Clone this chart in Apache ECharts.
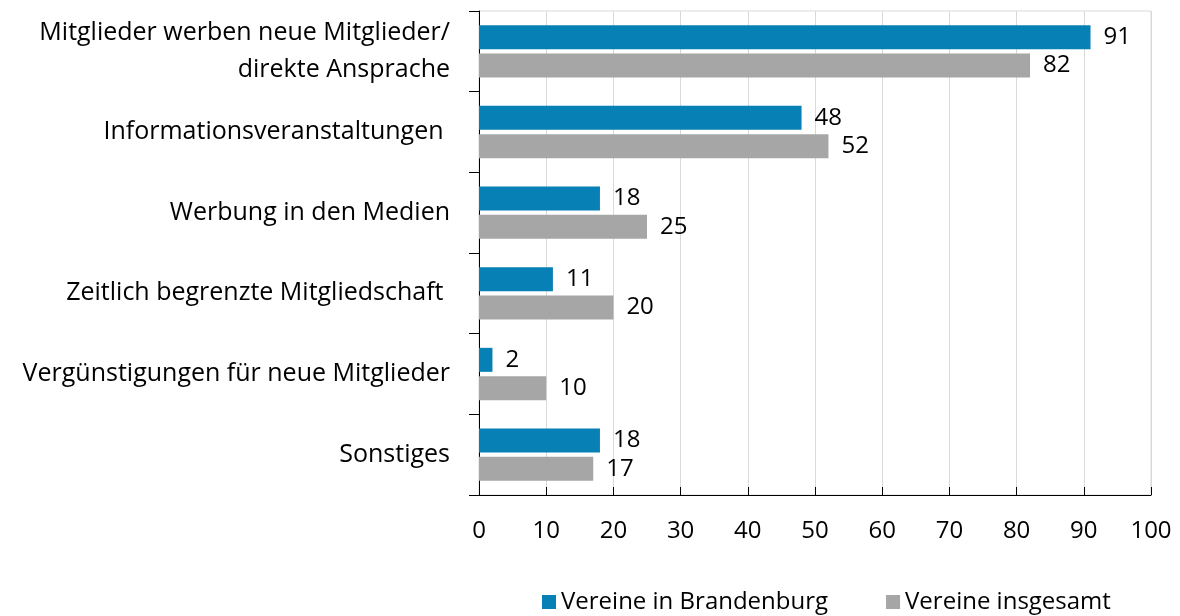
<!DOCTYPE html>
<html>
<head>
<meta charset="utf-8">
<script src="https://cdn.jsdelivr.net/npm/echarts@6/dist/echarts.min.js"></script>
<style>
  html, body { margin: 0; padding: 0; background: #fff; }
  #chart { width: 1180px; height: 616px; }
</style>
</head>
<body>
<div id="chart"></div>
<script>
var categories = [
  'Mitglieder werben neue Mitglieder/\ndirekte Ansprache',
  'Informationsveranstaltungen ',
  'Werbung in den Medien',
  'Zeitlich begrenzte Mitgliedschaft ',
  'Vergünstigungen für neue Mitglieder',
  'Sonstiges'
];
var brandenburg = [91, 48, 18, 11, 2, 18];
var insgesamt = [82, 52, 25, 20, 10, 17];
var seriesNames = ['Vereine in Brandenburg', 'Vereine insgesamt'];
var xTicks = [0, 100, 10];//min max interval

var font = 'Open Sans';
var chart = echarts.init(document.getElementById('chart'));

var labelStyle = {
  show: true,
  position: 'right',
  distance: 13,
  color: '#000',
  fontFamily: font,
  fontSize: 24
};

var option = {
  animation: false,
  textStyle: { fontFamily: font },
  grid: {
    left: 479, right: 29, top: 11, bottom: 121,
    show: true, borderColor: '#d9d9d9', borderWidth: 1
  },
  legend: {
    data: seriesNames,
    left: 537, bottom: -3,
    itemWidth: 14, itemHeight: 14, itemGap: 58,
    icon: 'rect',
    textStyle: { fontFamily: font, fontSize: 24, color: '#000' }
  },
  xAxis: {
    type: 'value',
    min: xTicks[0], max: xTicks[1], interval: xTicks[2],
    axisLine: { show: true, lineStyle: { color: '#000', width: 1 } },
    axisTick: { show: true, length: 8, inside: true, lineStyle: { color: '#000' } },
    axisLabel: { color: '#000', fontSize: 24, fontFamily: font, margin: 24 },
    splitLine: { show: true, lineStyle: { color: '#d9d9d9', width: 1 } }
  },
  yAxis: {
    type: 'category',
    data: categories,
    inverse: true,
    axisLine: { show: true, lineStyle: { color: '#000', width: 1 } },
    axisTick: { show: true, length: 10, lineStyle: { color: '#000' } },
    axisLabel: { color: '#000', fontSize: 25, fontFamily: font, margin: 29, lineHeight: 37, align: 'right' }
  },
  series: [
    {
      name: seriesNames[0],
      type: 'bar',
      data: brandenburg,
      barWidth: 24,
      barGap: '18%',
      barCategoryGap: '36%',
      itemStyle: { color: '#0680b5' },
      label: labelStyle
    },
    {
      name: seriesNames[1],
      type: 'bar',
      data: insgesamt,
      barWidth: 24,
      itemStyle: { color: '#a6a6a6' },
      label: labelStyle
    }
  ]
};
option && chart.setOption(option);
</script>
</body>
</html>
